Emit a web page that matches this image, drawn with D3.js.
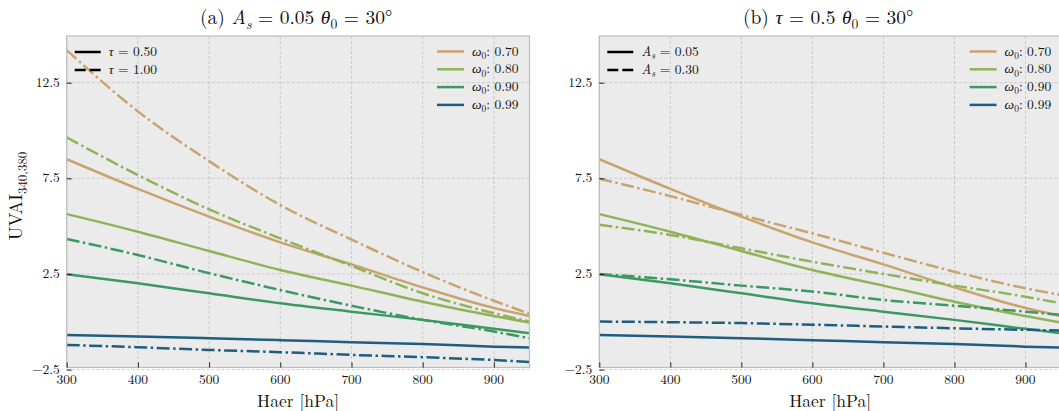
<!DOCTYPE html>
<html>
<head>
<meta charset="utf-8">
<script src="https://cdn.jsdelivr.net/npm/d3@7"></script>
<style>
  body { margin: 0; background: #fff; }
</style>
</head>
<body>
<script>
// pressure levels (hPa)
var haer = [300, 400, 500, 600, 700, 800, 900, 950];
var omegas = ["0.70", "0.80", "0.90", "0.99"];
var colors = ["#c8a46e", "#8fb457", "#3c9962", "#1f5e7e"];

// tau = 0.5, As = 0.05 (solid in both panels)
var base_070 = [8.5, 6.95, 5.5, 4.15, 3.0, 1.8, 0.72, 0.3];
var base_080 = [5.63, 4.71, 3.7, 2.71, 1.89, 1.05, 0.3, -0.04];
var base_090 = [2.48, 2.01, 1.49, 0.97, 0.53, 0.1, -0.37, -0.6];
var base_099 = [-0.69, -0.77, -0.86, -0.96, -1.07, -1.16, -1.3, -1.35];

// panel a: tau = 1.00 (dash-dot)
var tau1_070 = [14.2, 11.0, 8.4, 6.1, 4.3, 2.6, 1.1, 0.42];
var tau1_080 = [9.64, 7.67, 5.88, 4.36, 2.92, 1.49, 0.45, 0.01];
var tau1_090 = [4.33, 3.49, 2.54, 1.66, 0.84, 0.1, -0.51, -0.86];
var tau1_099 = [-1.21, -1.33, -1.47, -1.59, -1.73, -1.85, -2.0, -2.1];

// panel b: As = 0.30 (dash-dot)
var as3_070 = [7.48, 6.57, 5.58, 4.62, 3.61, 2.62, 1.75, 1.4];
var as3_080 = [5.07, 4.54, 3.84, 3.14, 2.5, 1.89, 1.31, 0.97];
var as3_090 = [2.5, 2.22, 1.89, 1.58, 1.14, 0.84, 0.53, 0.36];
var as3_099 = [0.01, -0.02, -0.07, -0.15, -0.25, -0.34, -0.42, -0.46];

var xTicks = [300, 400, 500, 600, 700, 800, 900];
var yTicks = [-2.5, 2.5, 7.5, 12.5];

var w_svg = 1059, h_svg = 411;
var top_y = 36, bot_y = 367.5;
var FONT = "Latin Modern Roman";

var svg = d3.select("body").append("svg")
  .attr("width", w_svg).attr("height", h_svg)
  .attr("font-family", FONT);

var yScale = d3.scaleLinear().domain([-2.39, 14.94]).range([bot_y, top_y]);

// mathtext-ish helper: parts = [[text, style]]
function mathText(sel, parts, size) {
  sel.attr("font-family", FONT).attr("font-size", size).attr("fill", "#111");
  parts.forEach(function(p) {
    var t = sel.append("tspan").text(p[0]);
    if (p[1] == "i") t.attr("font-style", "italic");
    if (p[1] == "sub") t.attr("dy", size * 0.25).attr("font-size", size * 0.7);
    if (p[1] == "isub") t.attr("dy", size * 0.25).attr("font-size", size * 0.7).attr("font-style", "italic");
    if (p[1] == "up") t.attr("dy", -size * 0.25);
  });
}

function panel(x0, x1, solid, dashed, title, legA, showYLabel) {
  var xScale = d3.scaleLinear().domain([300, 950]).range([x0, x1]);
  var g = svg.append("g");

  g.append("rect").attr("x", x0).attr("y", top_y)
    .attr("width", x1 - x0).attr("height", bot_y - top_y)
    .attr("fill", "#ebebeb");

  // grid
  g.selectAll("line.gx").data(xTicks).enter().append("line")
    .attr("x1", d => xScale(d)).attr("x2", d => xScale(d))
    .attr("y1", top_y).attr("y2", bot_y)
    .attr("stroke", "#c2c2c2").attr("stroke-width", 0.8).attr("stroke-dasharray", "3,2");
  g.selectAll("line.gy").data(yTicks).enter().append("line")
    .attr("x1", x0).attr("x2", x1)
    .attr("y1", d => yScale(d)).attr("y2", d => yScale(d))
    .attr("stroke", "#c2c2c2").attr("stroke-width", 0.8).attr("stroke-dasharray", "3,2");

  var clipId = "clip" + Math.round(x0);
  svg.append("clipPath").attr("id", clipId).append("rect")
    .attr("x", x0).attr("y", top_y).attr("width", x1 - x0).attr("height", bot_y - top_y);

  var line = d3.line()
    .x((d, i) => xScale(haer[i]))
    .y(d => yScale(d))
    .curve(d3.curveMonotoneX);

  var lines = g.append("g").attr("clip-path", "url(#" + clipId + ")");
  solid.forEach(function(s, k) {
    lines.append("path").attr("d", line(s)).attr("fill", "none")
      .attr("stroke", colors[k]).attr("stroke-width", 2.5);
  });
  dashed.forEach(function(s, k) {
    lines.append("path").attr("d", line(s)).attr("fill", "none")
      .attr("stroke", colors[k]).attr("stroke-width", 2.5)
      .attr("stroke-dasharray", "13,3.5,2.5,3.5");
  });

  // frame
  g.append("rect").attr("x", x0).attr("y", top_y)
    .attr("width", x1 - x0).attr("height", bot_y - top_y)
    .attr("fill", "none").attr("stroke", "#bdbdbd").attr("stroke-width", 1.2);

  // axes (inward ticks)
  var xAxis = d3.axisTop(xScale).tickValues(xTicks).tickSize(5).tickFormat("");
  g.append("g").attr("transform", "translate(0," + bot_y + ")").call(xAxis)
    .call(a => a.select(".domain").remove())
    .selectAll("line").attr("stroke", "#222");
  g.selectAll("text.xt").data(xTicks).enter().append("text")
    .attr("x", d => xScale(d)).attr("y", 384)
    .attr("text-anchor", "middle")
    .attr("font-family", FONT).attr("font-size", 13.5).attr("fill", "#111")
    .text(d => d);

  var yAxis = d3.axisRight(yScale).tickValues(yTicks).tickSize(5).tickFormat("");
  g.append("g").attr("transform", "translate(" + x0 + ",0)").call(yAxis)
    .call(a => a.select(".domain").remove())
    .selectAll("line").attr("stroke", "#222");
  g.selectAll("text.yt").data(yTicks).enter().append("text")
    .attr("x", x0 - 7).attr("y", d => yScale(d) + 4)
    .attr("text-anchor", "end")
    .attr("font-family", FONT).attr("font-size", 13.5).attr("fill", "#111")
    .text(d => d < 0 ? "\u2212" + Math.abs(d) : d);

  // title
  var tt = g.append("text").attr("x", (x0 + x1) / 2 - 2).attr("y", 24)
    .attr("text-anchor", "middle");
  mathText(tt, title, 19.5);

  // x label
  var xl = g.append("text").attr("x", (x0 + x1) / 2).attr("y", 407)
    .attr("text-anchor", "middle");
  mathText(xl, [["Haer [hPa]", "n"]], 17.5);

  // legend left (line style)
  legA.forEach(function(parts, k) {
    var yy = 52 + k * 18;
    g.append("line").attr("x1", x0 + 8).attr("x2", x0 + 34)
      .attr("y1", yy).attr("y2", yy).attr("stroke", "#000").attr("stroke-width", 2.5)
      .attr("stroke-dasharray", k == 1 ? "11,4" : null);
    var t = g.append("text").attr("x", x0 + 42).attr("y", yy + 4);
    mathText(t, parts, 13.5);
  });

  // legend right (colors)
  var lx = x0 + (437 - 66.7);
  omegas.forEach(function(o, k) {
    var yy = 51.5 + k * 17.8;
    g.append("line").attr("x1", lx).attr("x2", lx + 27)
      .attr("y1", yy).attr("y2", yy).attr("stroke", colors[k]).attr("stroke-width", 2.5);
    var t = g.append("text").attr("x", lx + 35).attr("y", yy + 4);
    mathText(t, [["\u03c9", "i"], ["0", "sub"], [": " + o, "up"]], 13.5);
  });

  if (showYLabel) {
    var yl = svg.append("text").attr("transform", "translate(22,196) rotate(-90)")
      .attr("text-anchor", "middle");
    mathText(yl, [["UVAI", "n"], ["340,380", "sub"]], 18.5);
  }
}

panel(66.7, 529.5,
  [base_070, base_080, base_090, base_099],
  [tau1_070, tau1_080, tau1_090, tau1_099],
  [["(a) ", "n"], ["A", "i"], ["s", "isub"], [" = 0.05 ", "up"], ["\u03b8", "i"], ["0", "sub"], [" = 30\u00b0", "up"]],
  [[["\u03c4", "i"], [" = 0.50", "n"]], [["\u03c4", "i"], [" = 1.00", "n"]]],
  true);

panel(599.3, 1061,
  [base_070, base_080, base_090, base_099],
  [as3_070, as3_080, as3_090, as3_099],
  [["(b) ", "n"], ["\u03c4", "i"], [" = 0.5 ", "n"], ["\u03b8", "i"], ["0", "sub"], [" = 30\u00b0", "up"]],
  [[["A", "i"], ["s", "isub"], [" = 0.05", "up"]], [["A", "i"], ["s", "isub"], [" = 0.30", "up"]]],
  false);
</script>
</body>
</html>
